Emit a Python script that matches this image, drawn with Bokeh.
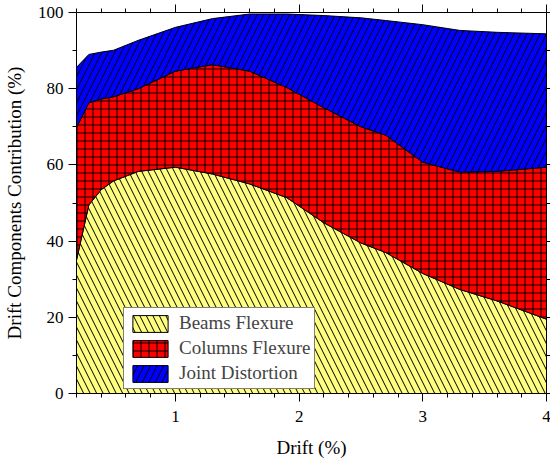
import numpy as np
from bokeh.plotting import figure
from bokeh.models import Range1d, LinearAxis, FixedTicker, Legend, LegendItem
from bokeh.embed import file_html
from bokeh.resources import INLINE

# Drift levels (%) and contribution of each deformation component (%)
drift = [0.2, 0.3, 0.4, 0.5, 0.7, 1.0, 1.3, 1.6, 1.9, 2.2, 2.5, 2.7, 3.0, 3.3, 3.6, 4.0]
beams_flexure = [35.0, 49.5, 53.5, 55.8, 58.3, 59.4, 57.6, 55.0, 51.4, 44.8, 39.5, 37.0, 31.5, 27.3, 24.3, 19.5]
columns_flexure = [34.8, 26.8, 23.8, 22.1, 21.7, 25.2, 28.7, 29.6, 28.9, 30.2, 30.5, 30.8, 29.2, 30.8, 34.0, 39.9]
joint_distortion = [15.8, 12.7, 12.3, 12.2, 12.7, 11.5, 12.1, 15.0, 19.3, 24.2, 28.6, 30.1, 36.1, 37.2, 36.5, 35.0]

series_names = ["Beams Flexure", "Columns Flexure", "Joint Distortion"]
x_ticks = [1, 2, 3, 4]
y_ticks = [0, 20, 40, 60, 80, 100]

FONT = "Liberation Serif"

p = figure(width=550, height=463, output_backend="svg", toolbar_location=None,
           x_range=Range1d(0.2, 4), y_range=Range1d(0, 100),
           x_axis_location=None, y_axis_location=None)
p.frame_width = 470
p.frame_height = 381
p.min_border_left = 75
p.min_border_right = 5
p.min_border_top = 12
p.min_border_bottom = 70
p.xgrid.visible = False
p.ygrid.visible = False
p.outline_line_color = None
p.background_fill_color = "white"

x = np.array(drift)
comps = [np.array(beams_flexure), np.array(columns_flexure), np.array(joint_distortion)]
tops = np.cumsum(comps, axis=0)
bottoms = np.vstack([np.zeros_like(x), tops[:-1]])

styles = [
    dict(fill_color="#FFFF80", hatch_pattern="\\", hatch_scale=13),
    dict(fill_color="#FF0000", hatch_pattern="+", hatch_scale=8),
    dict(fill_color="#0000FF", hatch_pattern="/", hatch_scale=13),
]

renderers = []
for top, bot, st in zip(tops, bottoms, styles):
    xs = np.concatenate([x, x[::-1]])
    ys = np.concatenate([top, bot[::-1]])
    r = p.patch(xs, ys, line_color="black", line_width=1,
                hatch_color="black", hatch_weight=1, **st)
    renderers.append(r)

legend = Legend(items=[LegendItem(label=n, renderers=[r]) for n, r in zip(series_names, renderers)],
                location=(47, 4), orientation="vertical")
legend.label_text_font = FONT
legend.label_text_font_size = "19px"
legend.glyph_width = 44
legend.glyph_height = 21
legend.label_height = 21
legend.label_standoff = 7
legend.spacing = 3
legend.padding = 4
legend.border_line_color = "black"
legend.border_line_width = 1
legend.background_fill_color = "white"
legend.background_fill_alpha = 1
p.add_layout(legend, "center")


def style_axis(ax, ticks, minor, labels=True):
    ax.ticker = FixedTicker(ticks=ticks, minor_ticks=minor)
    ax.axis_line_color = "black"
    ax.axis_line_width = 1
    ax.major_tick_line_color = "black"
    ax.minor_tick_line_color = "black"
    ax.major_tick_in = 0
    ax.major_tick_out = 8
    ax.minor_tick_in = 0
    ax.minor_tick_out = 4
    ax.major_label_text_font = FONT
    ax.major_label_text_font_size = "17px"
    ax.major_label_text_color = "black" if labels else None
    ax.axis_label_text_font = FONT
    ax.axis_label_text_font_size = "19px"
    ax.axis_label_text_font_style = "normal"
    ax.axis_label_text_color = "black"


x_minor = [round(0.2 * i, 1) for i in range(1, 20) if i % 5 != 0]
y_minor = [10, 30, 50, 70, 90]

xb = LinearAxis(axis_label="Drift (%)")
style_axis(xb, x_ticks, x_minor)
xb.major_label_standoff = 9
xb.axis_label_standoff = 12
p.add_layout(xb, "below")

xt = LinearAxis()
style_axis(xt, x_ticks, x_minor, labels=False)
p.add_layout(xt, "above")

yl = LinearAxis(axis_label="Drift Components Contribution (%)")
style_axis(yl, y_ticks, y_minor)
yl.major_label_standoff = 5
yl.axis_label_standoff = 10
p.add_layout(yl, "left")

yr = LinearAxis()
style_axis(yr, y_ticks, y_minor, labels=False)
p.add_layout(yr, "right")

open("out.html", "w").write(file_html(p, INLINE))
